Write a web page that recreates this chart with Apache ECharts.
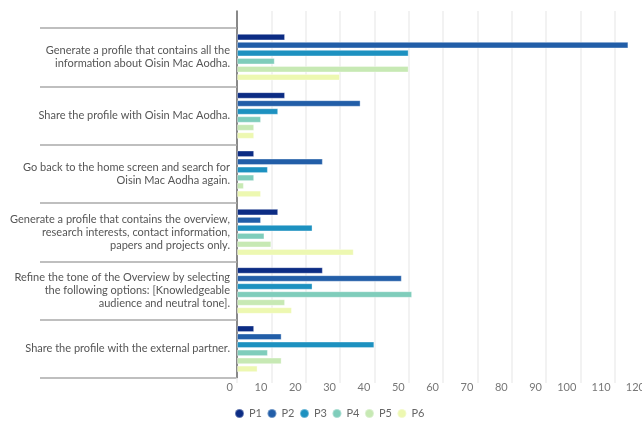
<!DOCTYPE html>
<html><head><meta charset="utf-8">
<script src="https://cdn.jsdelivr.net/npm/echarts@6/dist/echarts.min.js"></script>
<style>html,body{margin:0;padding:0;background:#fff}#c{width:642px;height:423px}</style>
</head><body><div id="c"></div>
<script>
const categories = [
  "Generate a profile that contains all the\ninformation about Oisin Mac Aodha.",
  "Share the profile with Oisin Mac Aodha.",
  "Go back to the home screen and search for\nOisin Mac Aodha again.",
  "Generate a profile that contains the overview,\nresearch interests, contact information,\npapers and projects only.",
  "Refine the tone of the Overview by selecting\nthe following options: [Knowledgeable\naudience and neutral tone].",
  "Share the profile with the external partner."
];
const seriesNames = ["P1","P2","P3","P4","P5","P6"];
const P1 = [14, 14, 5, 12, 25, 5];
const P2 = [114, 36, 25, 7, 48, 13];
const P3 = [50, 12, 9, 22, 22, 40];
const P4 = [11, 7, 5, 8, 51, 9];
const P5 = [50, 5, 2, 10, 14, 13];
const P6 = [30, 5, 7, 34, 16, 6];
const xTicks = [0,10,20,30,40,50,60,70,80,90,100,110,120];
const colors = ["#0c2c84","#225ea8","#1d91c0","#7fcdbb","#c7e9b4","#edf8b1"];
const values = [P1,P2,P3,P4,P5,P6];
const FONT = "Lato";

const chart = echarts.init(document.getElementById('c'), null, {renderer:'canvas'});
chart.setOption({
  animation:false,
  color: colors,
  textStyle:{fontFamily:FONT},
  grid:[
    {left:237, width:412, top:28, bottom:45, containLabel:false, outerBoundsMode:'none'},
    {left:237, width:412, top:11, height:17, containLabel:false, outerBoundsMode:'none'}
  ],
  legend:{
    data: seriesNames, left:229, top:403, icon:'circle', itemWidth:9, itemHeight:9,
    itemGap:4.5, textStyle:{color:'#666', fontSize:11, fontFamily:FONT}
  },
  xAxis:[
    {type:'value', gridIndex:0, min:xTicks[0], max:xTicks[xTicks.length-1], interval:10,
     axisLine:{show:false},
     axisTick:{show:true, length:5, lineStyle:{color:'#eeeeee', width:1.5}},
     splitLine:{show:true, lineStyle:{color:'#eeeeee', width:1.5}},
     axisLabel:{color:'#777', fontSize:11, fontFamily:FONT, align:'right', margin:4, padding:[0,4,0,0]}},
    {type:'value', gridIndex:1, min:xTicks[0], max:xTicks[xTicks.length-1], interval:10,
     axisLine:{show:false}, axisTick:{show:false}, axisLabel:{show:false},
     splitLine:{show:true, lineStyle:{color:'#eeeeee', width:1.5}}}
  ],
  yAxis:[
    {type:'category', gridIndex:0, data:categories, inverse:true,
     axisLine:{show:true, lineStyle:{color:'#666', width:1.5}},
     axisTick:{show:true, length:197, lineStyle:{color:'#aaaaaa', width:1.5}},
     axisLabel:{color:'#555', fontSize:11, fontFamily:FONT, margin:7, lineHeight:13, align:'right'}},
    {type:'category', gridIndex:1, data:[''],
     axisLine:{show:true, lineStyle:{color:'#666', width:1.5}},
     axisTick:{show:false}, axisLabel:{show:false}}
  ],
  series: seriesNames.map((n,i)=>({
    name:n, type:'bar', xAxisIndex:0, yAxisIndex:0, data:values[i],
    barCategoryGap:'20%', barGap:'22%',
    itemStyle:{color:colors[i], borderColor:'rgba(255,255,255,0.35)', borderWidth:1}
  }))
});
</script></body></html>
